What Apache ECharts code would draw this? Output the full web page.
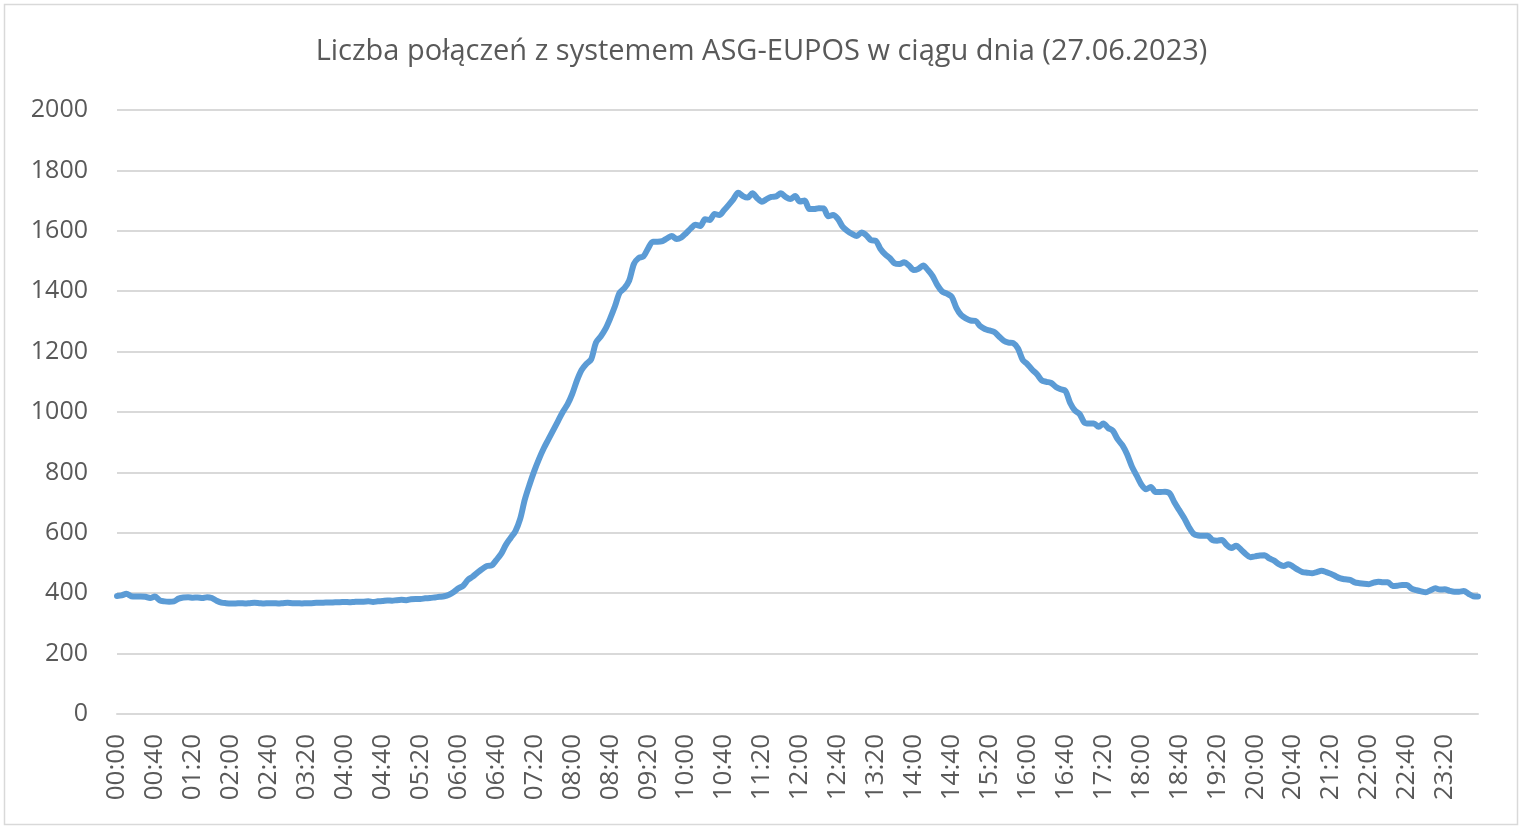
<!DOCTYPE html>
<html>
<head>
<meta charset="utf-8">
<script src="https://cdn.jsdelivr.net/npm/echarts@6/dist/echarts.min.js"></script>
<style>
html,body{margin:0;padding:0;background:#fff;}
#chart{width:1523px;height:832px;}
</style>
</head>
<body>
<div id="chart"></div>
<script>
const titleText = 'Liczba połączeń z systemem ASG-EUPOS w ciągu dnia (27.06.2023)';

// 5-minute time slots 00:00 .. 23:55
const times = [];
for (let h = 0; h < 24; h++) {
  for (let m = 0; m < 60; m += 5) {
    times.push(String(h).padStart(2, '0') + ':' + String(m).padStart(2, '0'));
  }
}

const connNight = [
  391, 393, 398, 390, 389, 389, 388, 384, 389, 376, 373, 372, 373, 382, 386, 387, 385, 386, 384, 387, 384, 375, 369,
  367, 366, 366, 367, 366, 367, 368, 367, 366, 367, 367, 366, 367, 368, 367, 367, 366, 367, 367, 368, 368, 369, 369,
  370, 370, 371, 370, 371, 372, 372, 373, 371, 373, 374, 376, 375, 377, 378, 377, 380, 381, 381, 383, 384, 386, 388, 390
];
const connDay = [
  395, 404, 416, 425, 444, 455, 468, 480, 490, 492,
  510, 530, 560, 583, 605, 645, 710, 760, 805, 845,
  880, 910, 940, 970, 1000, 1025, 1060, 1105, 1140, 1160,
  1175, 1230, 1250, 1275, 1310, 1350, 1395, 1410, 1435, 1490,
  1510, 1515, 1542, 1564, 1564, 1566, 1575, 1583, 1573, 1578,
  1592, 1608, 1620, 1616, 1638, 1636, 1656, 1652, 1668, 1686,
  1705, 1726, 1715, 1710, 1724, 1708, 1696, 1705, 1712, 1714,
  1724, 1712, 1705, 1715, 1697, 1700, 1672, 1672, 1675, 1674,
  1648, 1652, 1640, 1614, 1600, 1590, 1583, 1594, 1585, 1569,
  1567, 1540, 1522, 1509, 1492, 1490, 1496, 1485, 1470, 1474,
  1485, 1470, 1450, 1420, 1399, 1392, 1382, 1345, 1321, 1310,
  1303, 1302, 1285, 1275, 1270, 1265, 1250, 1236, 1230, 1228,
  1210, 1172, 1158, 1140, 1125, 1105, 1100, 1096, 1083, 1075,
  1070, 1030, 1005, 993, 965, 962, 962, 951, 962, 947
];
const connEvening = [
  938, 910, 890, 860, 820, 790, 760, 744, 752, 735,
  735, 736, 730, 700, 675, 650, 620, 597, 591, 590,
  590, 576, 574, 576, 560, 550, 557, 545, 530, 519,
  522, 525, 526, 515, 508, 496, 490, 496, 488, 478,
  470, 468, 466, 470, 474, 470, 464, 456, 449, 446,
  444, 436, 433, 431, 430, 435, 438, 436, 436, 424,
  425, 427, 427, 415, 410, 406, 403, 410, 416, 412,
  413, 408, 405, 405, 407, 398, 390, 389
];
const connections = connNight.concat(connDay, connEvening);

const chart = echarts.init(document.getElementById('chart'), null, {renderer: 'canvas'});
const font = '"Open Sans", "Noto Sans", sans-serif';
chart.setOption({
  backgroundColor: '#ffffff',
  animation: false,
  graphic: [{
    type: 'rect',
    shape: {x: 4.5, y: 4.5, width: 1513, height: 820},
    style: {fill: 'none', stroke: '#d9d9d9', lineWidth: 1.5},
    silent: true
  }],
  title: {
    text: titleText,
    left: 'center',
    top: 32,
    textStyle: {color: '#595959', fontSize: 29, fontWeight: 'normal', fontFamily: font}
  },
  grid: {left: 117, right: 45, top: 110, bottom: 118, containLabel: false},
  xAxis: {
    type: 'category',
    data: times,
    boundaryGap: false,
    axisLine: {show: true, lineStyle: {color: '#d9d9d9', width: 2}},
    axisTick: {show: false},
    axisLabel: {
      interval: 7,
      rotate: 90,
      margin: 20,
      color: '#595959',
      fontSize: 26,
      fontFamily: font
    },
    splitLine: {show: false}
  },
  yAxis: {
    type: 'value',
    min: 0,
    max: 2000,
    interval: 200,
    axisLine: {show: false},
    axisTick: {show: false},
    axisLabel: {
      color: '#595959', fontSize: 25, margin: 29, fontFamily: font,
      formatter: function (v) { return String(v); }
    },
    splitLine: {lineStyle: {color: '#d9d9d9', width: 2}}
  },
  series: [{
    type: 'line',
    data: connections,
    showSymbol: false,
    symbol: 'none',
    smooth: 0.3,
    lineStyle: {color: '#5b9bd5', width: 6, cap: 'round', join: 'round'}
  }]
});
</script>
</body>
</html>
